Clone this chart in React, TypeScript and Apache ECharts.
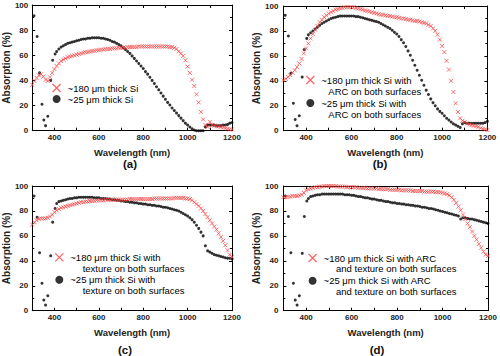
import React, { useEffect, useRef } from "react";
import * as echarts from "echarts";

// Wavelength grids (nm)
const wlRed = [
  300, 310, 320, 330, 340, 350, 360, 370, 380, 390,
  400, 410, 420, 430, 440, 450, 460, 470, 480, 490,
  500, 510, 520, 530, 540, 550, 560, 570, 580, 590,
  600, 610, 620, 630, 640, 650, 660, 670, 680, 690,
  700, 710, 720, 730, 740, 750, 760, 770, 780, 790,
  800, 810, 820, 830, 840, 850, 860, 870, 880, 890,
  900, 910, 920, 930, 940, 950, 960, 970, 980, 990,
  1000, 1010, 1020, 1030, 1040, 1050, 1060, 1070, 1080, 1090,
  1100, 1110, 1120, 1130, 1140, 1150, 1160, 1170, 1180, 1190,
  1200,
];
const wlBlack = [
  308, 322, 333, 344, 352, 360, 370, 383, 392, 403,
  410, 420, 430, 440, 450, 460, 470, 480, 490,
  500, 510, 520, 530, 540, 550, 560, 570, 580, 590,
  600, 610, 620, 630, 640, 650, 660, 670, 680, 690,
  700, 710, 720, 730, 740, 750, 760, 770, 780, 790,
  800, 810, 820, 830, 840, 850, 860, 870, 880, 890,
  900, 910, 920, 930, 940, 950, 960, 970, 980, 990,
  1000, 1010, 1020, 1030, 1040, 1050, 1060, 1070, 1080, 1090,
  1100, 1110, 1120, 1130, 1140, 1150, 1160, 1170, 1180, 1190,
  1200,
];

// (a) bare wafers
const thick180A = [
  36.5, 39.5, 42, 44, 45, 43, 40.5, 39.5, 42.5, 46,
  49, 51.5, 53.5, 55.5, 56.5, 57.5, 58.5, 59, 59.5, 60,
  60.5, 61, 61.5, 62, 62.5, 62.5, 63, 63.5, 63.5, 64,
  64, 64.5, 64.5, 65, 65, 65, 65.5, 65.5, 65.5, 66,
  66, 66, 66, 66.5, 66.5, 66.5, 66.5, 66.5, 67, 67,
  67, 67, 67, 67, 67, 67, 67, 67, 67, 67,
  67, 67, 66.5, 66.5, 66, 65, 63, 61.5, 59.5, 56,
  51, 46, 40.5, 35.5, 29, 22.5, 15, 9, 4.5, 3,
  7, 4.5, 4, 3.5, 3.5, 3, 2.5, 2, 1.5, 1,
  1,
];
const thick25A = [
  91.5, 75, 46, 21, 8.5, 4, 11.5, 40, 56, 61,
  63, 65, 66.5, 67.5, 68.5, 69.5, 70, 70.5, 71,
  71.5, 72, 72.5, 73, 73, 73.5, 73.5, 74, 74, 74,
  74, 73.5, 73.5, 73, 72.5, 72, 71, 70.5, 69.5, 68.5,
  67.5, 66, 64.5, 63, 61.5, 59.5, 57.5, 55.5, 53.5, 51.5,
  49.5, 47, 45, 42.5, 40, 37.5, 35, 32.5, 30, 27.5,
  25, 22.5, 20.5, 18, 16, 14, 12, 10, 8, 6,
  4.5, 3, 1.5, 0.5, 0, 0, 0, 0, 3, 4.5,
  4.5, 4.5, 4.5, 4, 4, 4, 4.5, 4.5, 5, 6,
  6.5,
];

// (b) ARC on both surfaces
const thick180B = [
  40.5, 41.5, 43, 44.5, 46.5, 48.5, 51, 54, 57.5, 62,
  66, 70, 74, 77.5, 81, 84, 87, 89, 91, 92.5,
  94, 95, 96, 97, 97.5, 98, 98.5, 99, 99, 99,
  99, 99, 98.5, 98, 97.5, 97, 96.5, 96, 95.5, 95,
  94.5, 94, 93.5, 93, 93, 92.5, 92, 92, 91.5, 91,
  91, 90.5, 90, 90, 89.5, 89, 89, 88.5, 88, 88,
  87.5, 87, 86.5, 86, 85, 84, 82, 80, 77, 73,
  68, 63, 56, 49, 40, 31, 22, 15, 10, 8,
  7, 6, 5, 4.5, 4, 3.5, 3, 2, 1.5, 1,
  0.5,
];
const thick25B = [
  92.5, 76, 46, 22, 9, 4, 12, 43, 65, 74,
  77, 78.5, 80, 81.5, 83, 84.5, 86, 87, 88,
  89, 90, 90.5, 91, 91.5, 92, 92, 92, 92, 92,
  92, 92, 91.5, 91.5, 91, 90.5, 90, 89.5, 89, 88.5,
  88, 87.5, 87, 86, 85, 84, 83, 82, 80.5, 79,
  77.5, 75.5, 73, 70.5, 67.5, 64, 60.5, 56.5, 52.5, 48.5,
  44.5, 40.5, 36.5, 32.5, 29, 25.5, 22.5, 20, 17.5, 15.5,
  14, 12, 10, 8.5, 7, 5.5, 4.5, 3.5, 2.5, 5.5,
  6.5, 6, 6, 6, 6, 6, 6, 6, 6, 6.5,
  7.5,
];

// (c) texture on both surfaces
const thick180C = [
  69, 71, 72.5, 73.5, 74, 74, 74, 74.5, 75.5, 77,
  79, 80.5, 81.5, 82.5, 83, 83.5, 84, 84.5, 85, 85.5,
  86, 86.5, 87, 87, 87.5, 87.5, 88, 88, 88, 88.5,
  88.5, 88.5, 88.5, 89, 89, 89, 89, 89, 89, 89,
  89, 89, 89, 89, 89.5, 89.5, 89.5, 89.5, 89.5, 89.5,
  89.5, 89.5, 89.5, 89.5, 89.5, 90, 90, 90, 90, 90,
  90, 90, 90, 90, 90.5, 90.5, 90.5, 90.5, 90.5, 90,
  90, 89.5, 88.5, 87, 85.5, 84, 82, 80, 77.5, 75,
  72.5, 70, 67.5, 65, 62, 59, 56, 52.5, 48.5, 45,
  43,
];
const thick25C = [
  92, 75, 46.5, 22, 8.5, 4.5, 12, 44, 71, 82,
  86, 87.5, 88, 88.5, 89, 89.5, 90, 90, 90.5,
  90.5, 91, 91, 91, 91, 91, 91, 91, 90.5, 90.5,
  90.5, 90, 90, 90, 89.5, 89.5, 89, 89, 88.5, 88.5,
  88, 88, 87.5, 87.5, 87, 87, 86.5, 86.5, 86, 86,
  85.5, 85.5, 85, 85, 84.5, 84.5, 84, 84, 83.5, 83,
  83, 82.5, 82, 81.5, 81, 80.5, 80, 79, 78, 77,
  76, 74.5, 73, 71, 68.5, 66, 63, 60, 52, 48,
  47, 46, 45, 44.5, 44, 43.5, 43, 42.5, 42, 42,
  41.5,
];

// (d) ARC and texture on both surfaces
const thick180D = [
  91, 91, 91.5, 91.5, 92, 92, 92, 92.5, 93, 94.5,
  96.5, 97.5, 98, 98.5, 99, 99, 99.5, 99.5, 100, 100,
  100, 100, 100, 100, 99.5, 99.5, 99.5, 99.5, 99, 99,
  99, 99, 99, 98.5, 98.5, 98.5, 98.5, 98, 98, 98,
  98, 98, 97.5, 97.5, 97.5, 97.5, 97.5, 97, 97, 97,
  97, 97, 96.5, 96.5, 96.5, 96.5, 96.5, 96, 96, 96,
  96, 96, 95.5, 95.5, 95.5, 95.5, 95.5, 95, 95, 95,
  94.5, 94, 93.5, 92.5, 91, 89, 86.5, 83.5, 80.5, 77,
  73.5, 70, 67, 63.5, 60, 57, 53.5, 50.5, 47.5, 45,
  44,
];
const thick25D = [
  92, 75.5, 46.5, 22, 8.5, 4.5, 12, 46, 75.5, 88,
  90, 91.5, 92, 92.5, 93, 93, 93.5, 93.5, 93.5,
  93.5, 93.5, 93.5, 93.5, 93.5, 93.5, 93.5, 93, 93, 93,
  92.5, 92.5, 92, 91.5, 91.5, 91, 90.5, 90.5, 90, 89.5,
  89.5, 89, 88.5, 88.5, 88, 87.5, 87.5, 87, 86.5, 86.5,
  86, 86, 85.5, 85.5, 85, 85, 84.5, 84.5, 84, 84,
  83.5, 83, 83, 82.5, 82, 82, 81.5, 81, 80.5, 80,
  79.5, 79, 78.5, 78, 77.5, 77, 76.5, 76, 73.5, 74.5,
  74.5, 74, 73.5, 73.5, 73, 72.5, 72, 71.5, 71, 70.5,
  70,
];

const redNames = [
  "~180 μm thick Si",
  "~180 μm thick Si with ARC on both surfaces",
  "~180 μm thick Si with texture on both surfaces",
  "~180 μm thick Si with ARC and texture on both surfaces",
];
const blackNames = [
  "~25 μm thick Si",
  "~25 μm thick Si with ARC on both surfaces",
  "~25 μm thick Si with texture on both surfaces",
  "~25 μm thick Si with ARC and texture on both surfaces",
];
const firstLines: Record<string, string> = {
  [redNames[0]]: "~180 μm thick Si",
  [redNames[1]]: "~180 μm thick Si with",
  [redNames[2]]: "~180 μm thick Si with",
  [redNames[3]]: "~180 μm thick Si with ARC",
  [blackNames[0]]: "~25 μm thick Si",
  [blackNames[1]]: "~25 μm thick Si with",
  [blackNames[2]]: "~25 μm thick Si with",
  [blackNames[3]]: "~25 μm thick Si with ARC",
};
const secondLines = [
  ["", ""],
  ["ARC on both surfaces", "ARC on both surfaces"],
  ["texture on both surfaces", "texture on both surfaces"],
  ["and texture on both surfaces", "and texture on both surfaces"],
];
const panelLabels = ["(a)", "(b)", "(c)", "(d)"];
const xTitle = "Wavelength (nm)";
const yTitle = "Absorption (%)";

const redSeries = [thick180A, thick180B, thick180C, thick180D];
const blackSeries = [thick25A, thick25B, thick25C, thick25D];

const FONT = "'Liberation Sans', Arial, sans-serif";
const RED = "#ff3a3a";
const X_PATH = "path://M0,0L10,10M10,0L0,10";

const grids = [
  { left: 26.5, top: 5, width: 205.5, height: 125.7 },
  { left: 283.4, top: 6, width: 204, height: 124.7 },
  { left: 26.5, top: 186, width: 205.5, height: 124.7 },
  { left: 283.4, top: 186, width: 204.6, height: 124.7 },
];
const yNameGap = [16.5, 20, 16.5, 20];
const yLabelMargin = [4, 5, 4, 5];
const legendPos = [
  { left: 52, top: 82.5, gap: 0 },
  { left: 305.7, top: 74.5, gap: 12 },
  { left: 54.7, top: 251.8, gap: 11.4 },
  { left: 308, top: 252.5, gap: 11.7 },
];
const secondLinePos = [
  [[0, 0], [0, 0]],
  [[328.3, 91.7], [328.3, 114.3]],
  [[82.7, 268], [82.7, 290.7]],
  [[336, 268.7], [336, 291.3]],
];
const panelLabelPos = [
  [130, 163.5],
  [380, 163.5],
  [125, 349.5],
  [377, 349.5],
];

function buildOption() {
  const xAxis: any[] = [];
  const yAxis: any[] = [];
  const series: any[] = [];
  const legend: any[] = [];
  const graphic: any[] = [];

  for (let i = 0; i < 4; i++) {
    const axisLine = { show: true, onZero: false, lineStyle: { color: "#000", width: 1 } };
    xAxis.push({
      type: "value",
      gridIndex: i,
      min: 300,
      max: 1200,
      interval: 100,
      position: "bottom",
      axisLine,
      axisTick: { show: true, inside: true, length: 3, lineStyle: { color: "#000" } },
      axisLabel: {
        formatter: (v: number) => (v % 200 === 0 ? String(v) : ""),
        fontSize: 8,
        fontWeight: "bold",
        color: "#222",
        fontFamily: FONT,
        margin: 3,
      },
      splitLine: { show: false },
      name: xTitle,
      nameLocation: "middle",
      nameGap: 17,
      nameTextStyle: { fontSize: 9.5, fontWeight: "bold", color: "#222", fontFamily: FONT },
    });
    yAxis.push({
      type: "value",
      gridIndex: i,
      min: 0,
      max: 100,
      interval: 20,
      position: "left",
      axisLine,
      axisTick: { show: true, inside: true, length: 3, lineStyle: { color: "#000" } },
      minorTick: { show: true, splitNumber: 2, length: 2, lineStyle: { color: "#000" } },
      axisLabel: {
        fontSize: 8,
        fontWeight: "bold",
        color: "#222",
        fontFamily: FONT,
        margin: yLabelMargin[i],
      },
      splitLine: { show: false },
      name: yTitle,
      nameLocation: "middle",
      nameGap: yNameGap[i],
      nameTextStyle: { fontSize: 10, fontWeight: "bold", color: "#222", fontFamily: FONT },
    });
  }
  // mirrored frame axes
  for (let i = 0; i < 4; i++) {
    const axisLine = { show: true, onZero: false, lineStyle: { color: "#000", width: 1 } };
    xAxis.push({
      type: "value",
      gridIndex: i,
      min: 300,
      max: 1200,
      interval: 100,
      position: "top",
      axisLine,
      axisTick: { show: true, inside: true, length: 3, lineStyle: { color: "#000" } },
      axisLabel: { show: false },
      splitLine: { show: false },
    });
    yAxis.push({
      type: "value",
      gridIndex: i,
      min: 0,
      max: 100,
      interval: 20,
      position: "right",
      axisLine,
      axisTick: { show: true, inside: true, length: 3, lineStyle: { color: "#000" } },
      minorTick: { show: true, splitNumber: 2, length: 2, lineStyle: { color: "#000" } },
      axisLabel: { show: false },
      splitLine: { show: false },
    });
  }

  for (let i = 0; i < 4; i++) {
    series.push({
      type: "scatter",
      name: blackNames[i],
      xAxisIndex: i,
      yAxisIndex: i,
      data: wlBlack.map((w, k) => [w, blackSeries[i][k]]),
      symbol: "circle",
      symbolSize: 3,
      itemStyle: { color: "#000" },
      silent: true,
      z: 2,
    });
    series.push({
      type: "scatter",
      name: redNames[i],
      xAxisIndex: i,
      yAxisIndex: i,
      data: wlRed.map((w, k) => [w, redSeries[i][k]]),
      symbol: X_PATH,
      symbolSize: 4,
      itemStyle: { color: "rgba(0,0,0,0)", borderColor: RED, borderWidth: 0.9 },
      silent: true,
      z: 3,
    });

    legend.push({
      orient: "vertical",
      left: legendPos[i].left,
      top: legendPos[i].top,
      padding: 0,
      itemGap: legendPos[i].gap,
      itemWidth: 12,
      itemHeight: 8,
      selectedMode: false,
      formatter: (name: string) => firstLines[name] || name,
      textStyle: { fontSize: 9.5, color: "#000", fontFamily: FONT, lineHeight: 11 },
      data: [
        {
          name: redNames[i],
          icon: X_PATH,
          itemStyle: { color: "rgba(0,0,0,0)", borderColor: RED, borderWidth: 1.2 },
        },
        { name: blackNames[i], icon: "circle", itemStyle: { color: "#000" } },
      ],
    });

    for (let j = 0; j < 2; j++) {
      if (secondLines[i][j]) {
        graphic.push({
          type: "text",
          x: secondLinePos[i][j][0],
          y: secondLinePos[i][j][1],
          silent: true,
          style: {
            text: secondLines[i][j],
            fill: "#000",
            fontSize: 9.5,
            fontFamily: FONT,
            align: "left",
            verticalAlign: "middle",
          },
        });
      }
    }
    graphic.push({
      type: "text",
      x: panelLabelPos[i][0],
      y: panelLabelPos[i][1],
      silent: true,
      style: {
        text: panelLabels[i],
        fill: "#111",
        fontSize: 11.5,
        fontWeight: "bold",
        fontFamily: FONT,
        align: "center",
        verticalAlign: "middle",
      },
    });
  }

  return {
    animation: false,
    backgroundColor: "#ffffff",
    grid: grids.map((g) => ({ ...g, containLabel: false })),
    xAxis,
    yAxis,
    legend,
    series,
    graphic,
  };
}

export default function App() {
  const ref = useRef<HTMLDivElement>(null);
  useEffect(() => {
    if (!ref.current) return;
    const chart = echarts.init(ref.current, undefined, { renderer: "svg" });
    chart.setOption(buildOption() as any);
    return () => chart.dispose();
  }, []);
  return (
    <div
      ref={ref}
      style={{ position: "fixed", left: 0, top: 0, width: 500, height: 356, background: "#fff" }}
    />
  );
}
